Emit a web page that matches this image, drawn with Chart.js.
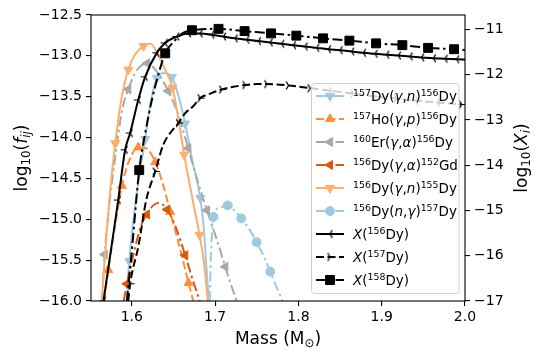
<!DOCTYPE html>
<html>
<head>
<meta charset="utf-8">
<script src="https://cdn.jsdelivr.net/npm/chart.js@4.4.1/dist/chart.umd.min.js"></script>
<style>
  html, body { margin: 0; padding: 0; background: #fff; }
  #wrap { width: 540px; height: 357px; }
</style>
</head>
<body>
<div id="wrap"><canvas id="chart" width="540" height="357"></canvas></div>
<script>
// ticks
const massTicks = [1.6, 1.7, 1.8, 1.9, 2.0];
const fTicks = [-16.0, -15.5, -15.0, -14.5, -14.0, -13.5, -13.0, -12.5];
const abTicks = [-17, -16, -15, -14, -13, -12, -11];

// reaction flows, log10(f_ij), left axis
const dyGnMass = [1.5939, 1.5969, 1.6065, 1.6161, 1.6221, 1.6301, 1.6389, 1.6482, 1.6557, 1.6641, 1.6726, 1.6822, 1.6864, 1.6894, 1.6924];
const dyGnLog = [-16.0, -15.51, -14.64, -14.02, -13.60, -13.27, -13.21, -13.26, -13.48, -13.83, -14.28, -14.74, -15.11, -15.56, -16.0];

const hoGpMass = [1.5668, 1.5717, 1.5801, 1.5881, 1.5981, 1.6077, 1.6173, 1.6281, 1.6365, 1.6461, 1.6569, 1.6681, 1.6737];
const hoGpLog = [-16.0, -15.62, -15.07, -14.59, -14.25, -14.12, -14.13, -14.30, -14.54, -14.91, -15.32, -15.78, -16.0];

const erGaMass = [1.5644, 1.5674, 1.5729, 1.5813, 1.5885, 1.5957, 1.6065, 1.6185, 1.6305, 1.6437, 1.6557, 1.6677, 1.6786, 1.6902, 1.7014, 1.7122, 1.7194, 1.7260];
const erGaLog = [-16.0, -15.43, -14.83, -14.15, -13.66, -13.41, -13.17, -13.09, -13.20, -13.43, -13.72, -14.13, -14.52, -14.89, -15.23, -15.58, -15.81, -16.0];

const dyGaMass = [1.5903, 1.5941, 1.6041, 1.6113, 1.6181, 1.6257, 1.6317, 1.6425, 1.6533, 1.6641, 1.6725, 1.6816];
const dyGaLog = [-16.0, -15.79, -15.34, -15.07, -14.94, -14.83, -14.80, -14.88, -15.11, -15.44, -15.72, -16.0];

const dyGn155Mass = [1.5638, 1.5692, 1.5741, 1.5801, 1.5873, 1.5957, 1.6041, 1.6141, 1.6221, 1.6317, 1.6401, 1.6489, 1.6557, 1.6629, 1.6726, 1.6813, 1.6870, 1.6912];
const dyGn155Log = [-16.0, -15.25, -14.64, -14.07, -13.54, -13.17, -12.98, -12.88, -12.85, -12.99, -13.17, -13.39, -13.76, -14.21, -14.74, -15.19, -15.56, -16.0];

const dyNgMass = [1.6936, 1.6948, 1.6981, 1.7050, 1.7152, 1.7230, 1.7314, 1.7410, 1.7498, 1.7578, 1.7662, 1.7734, 1.7807];
const dyNgLog = [-16.0, -15.50, -14.97, -14.86, -14.83, -14.89, -14.99, -15.12, -15.28, -15.44, -15.64, -15.82, -16.0];

// abundances, log10(X_i), right axis
const x156Mass = [1.566, 1.5837, 1.592, 1.598, 1.6077, 1.616, 1.630, 1.640, 1.654, 1.668, 1.682, 1.696, 1.710, 1.724, 1.738, 1.752, 1.766, 1.780, 1.794, 1.808, 1.822, 1.836, 1.850, 1.864, 1.878, 1.892, 1.906, 1.920, 1.934, 1.948, 1.962, 1.976, 1.990, 2.004];
const x156Log = [-17.0, -14.77, -13.66, -13.29, -12.56, -12.05, -11.52, -11.30, -11.16, -11.09, -11.09, -11.12, -11.16, -11.20, -11.23, -11.26, -11.29, -11.32, -11.35, -11.38, -11.41, -11.44, -11.46, -11.49, -11.52, -11.54, -11.56, -11.58, -11.60, -11.62, -11.64, -11.65, -11.66, -11.67];

const x157Mass = [1.5957, 1.598, 1.608, 1.6173, 1.6281, 1.6377, 1.6461, 1.656, 1.6641, 1.6737, 1.682, 1.6942, 1.708, 1.7218, 1.736, 1.750, 1.762, 1.788, 1.814, 1.840, 1.866, 1.892, 1.918, 1.944, 1.970, 1.996];
const x157Log = [-17.0, -16.62, -15.78, -14.77, -14.14, -13.55, -13.29, -13.07, -12.85, -12.70, -12.52, -12.42, -12.33, -12.27, -12.23, -12.21, -12.21, -12.24, -12.30, -12.36, -12.42, -12.48, -12.53, -12.58, -12.62, -12.66];

const x158Mass = [1.5941, 1.6001, 1.6089, 1.6161, 1.6241, 1.6317, 1.6401, 1.6521, 1.6617, 1.6722, 1.7041, 1.7354, 1.7671, 1.7975, 1.8296, 1.8612, 1.8932, 1.9248, 1.9557, 1.9869, 2.003];
const x158Log = [-17.0, -15.87, -14.11, -13.29, -12.56, -12.01, -11.53, -11.24, -11.08, -11.02, -10.99, -11.04, -11.09, -11.14, -11.20, -11.25, -11.31, -11.35, -11.41, -11.44, -11.46];

const FONT = '"DejaVu Sans", "Liberation Sans", sans-serif';
const DASH = [8, 3.5];
const DASHDOT = [10, 3.5, 2.5, 3.5];

function range(a, b) {
  const out = [];
  for (let i = a; i <= b; i++) out.push(i);
  return out;
}

// small tri markers like matplotlib '3' and '4'
function triMarker(dir) {
  const c = document.createElement('canvas');
  c.width = 11; c.height = 11;
  const g = c.getContext('2d');
  g.strokeStyle = '#000';
  g.lineWidth = 1.2;
  const cx = 5.5, cy = 5.5, r = 4.5;
  const arms = [[dir, 0], [-dir * 0.5, -0.866], [-dir * 0.5, 0.866]];
  g.beginPath();
  arms.forEach(a => { g.moveTo(cx, cy); g.lineTo(cx + a[0] * r, cy + a[1] * r); });
  g.stroke();
  return c;
}
const triLeft = triMarker(-1);
const triRight = triMarker(1);

const series = [
  { name: '{157}Dy([γ],[n]){156}Dy', mass: dyGnMass, vals: dyGnLog, marks: [1, 3, 5, 7, 9, 11],
    color: '#9ecae1', dash: [], marker: 'triangle', rot: 180, r: 5.2, axis: 'y' },
  { name: '{157}Ho([γ],[p]){156}Dy', mass: hoGpMass, vals: hoGpLog, marks: [1, 3, 5, 7, 9, 11],
    color: '#fd8d3c', dash: DASH, marker: 'triangle', rot: 0, r: 5.2, axis: 'y' },
  { name: '{160}Er([γ],[α]){156}Dy', mass: erGaMass, vals: erGaLog, marks: [1, 5, 7, 9, 11, 13, 15],
    color: '#a8a8a8', dash: DASHDOT, marker: 'triangle', rot: -90, r: 5.2, axis: 'y' },
  { name: '{156}Dy([γ],[α]){152}Gd', mass: dyGaMass, vals: dyGaLog, marks: [1, 4, 7, 9],
    color: '#d95a0e', dash: DASHDOT, marker: 'triangle', rot: -90, r: 5.2, axis: 'y' },
  { name: '{156}Dy([γ],[n]){155}Dy', mass: dyGn155Mass, vals: dyGn155Log, marks: [3, 5, 7, 11, 13, 15],
    color: '#fdae6b', dash: [], marker: 'triangle', rot: 180, r: 5.2, axis: 'y' },
  { name: '{156}Dy([n],[γ]){157}Dy', mass: dyNgMass, vals: dyNgLog, marks: [2, 4, 6, 8, 10],
    color: '#9ecae1', dash: DASHDOT, marker: 'circle', rot: 0, r: 4.5, axis: 'y' },
  { name: '[X]({156}Dy)', mass: x156Mass, vals: x156Log, marks: range(0, 33),
    color: '#000', dash: [], marker: triLeft, rot: 0, r: 3, axis: 'y2' },
  { name: '[X]({157}Dy)', mass: x157Mass, vals: x157Log, marks: [1, 4, 7, 10, 12, 14].concat(range(16, 25)),
    color: '#000', dash: DASH, marker: triRight, rot: 0, r: 3, axis: 'y2' },
  { name: '[X]({158}Dy)', mass: x158Mass, vals: x158Log, marks: [2, 6].concat(range(9, 19)),
    color: '#000', dash: DASHDOT, marker: 'rect', rot: 0, r: 6.3, axis: 'y2' }
];

// "{sup}" superscript, "[it]" italic, "<sub>" subscript
function parseRich(str) {
  const segs = [];
  const re = /\{([^}]*)\}|\[([^\]]*)\]|<([^>]*)>|([^{\[<]+)/g;
  let m;
  while ((m = re.exec(str))) {
    if (m[1] !== undefined) segs.push({ t: m[1], sup: true });
    else if (m[2] !== undefined) segs.push({ t: m[2], it: true });
    else if (m[3] !== undefined) segs.push({ t: m[3], sub: true });
    else segs.push({ t: m[4] });
  }
  return segs;
}

function segFont(s, fs) {
  const size = (s.sup || s.sub) ? fs * 0.7 : fs;
  return (s.it ? 'italic ' : '') + size.toFixed(1) + 'px ' + FONT;
}

function richWidth(ctx, segs, fs) {
  let w = 0;
  segs.forEach(s => { ctx.font = segFont(s, fs); w += ctx.measureText(s.t).width; });
  return w;
}

function drawRich(ctx, segs, x, y, fs) {
  ctx.textBaseline = 'alphabetic';
  ctx.textAlign = 'left';
  segs.forEach(s => {
    ctx.font = segFont(s, fs);
    let dy = 0;
    if (s.sup) dy = -0.36 * fs;
    if (s.sub) dy = 0.2 * fs;
    ctx.fillText(s.t, x, y + dy);
    x += ctx.measureText(s.t).width;
  });
}

function fmt(v, d) {
  return (v < 0 ? '\u2212' : '') + Math.abs(v).toFixed(d);
}

const decorPlugin = {
  id: 'decor',
  afterDatasetsDraw(chart) {
    const ctx = chart.ctx;
    const a = chart.chartArea;
    ctx.save();
    ctx.strokeStyle = '#000';
    ctx.lineWidth = 1.1;
    ctx.strokeRect(a.left, a.top, a.right - a.left, a.bottom - a.top);
    ctx.restore();
  },
  afterDraw(chart) {
    const ctx = chart.ctx;
    const a = chart.chartArea;
    ctx.save();
    ctx.fillStyle = '#000';

    // axis titles
    const xl = [{ t: 'Mass (M' }, { t: '\u2299', sub: true }, { t: ')' }];
    const fsL = 17;
    let w = richWidth(ctx, xl, fsL);
    drawRich(ctx, xl, (a.left + a.right) / 2 - w / 2, 344, fsL);

    const yl = [{ t: 'log' }, { t: '10', sub: true }, { t: '(' }, { t: 'f', it: true }, { t: 'ij', sub: true, it: true }, { t: ')' }];
    const yr = [{ t: 'log' }, { t: '10', sub: true }, { t: '(' }, { t: 'X', it: true }, { t: 'i', sub: true, it: true }, { t: ')' }];
    const cy = (a.top + a.bottom) / 2;
    [[yl, 27], [yr, 527]].forEach(([segs, cx]) => {
      ctx.save();
      ctx.translate(cx, cy);
      ctx.rotate(-Math.PI / 2);
      const ww = richWidth(ctx, segs, fsL);
      drawRich(ctx, segs, -ww / 2, 0, fsL);
      ctx.restore();
    });

    // legend
    const lx = 311.5, ly = 83.5, lw = 147.5, lh = 210;
    ctx.beginPath();
    ctx.roundRect(lx, ly, lw, lh, 3);
    ctx.fillStyle = 'rgba(255,255,255,0.8)';
    ctx.fill();
    ctx.strokeStyle = '#d0d0d0';
    ctx.lineWidth = 1;
    ctx.stroke();

    series.forEach((s, i) => {
      const y = 96 + i * 23;
      ctx.save();
      ctx.strokeStyle = s.color;
      ctx.lineWidth = 2;
      ctx.setLineDash(s.dash);
      ctx.beginPath();
      ctx.moveTo(316, y);
      ctx.lineTo(344, y);
      ctx.stroke();
      ctx.setLineDash([]);
      ctx.fillStyle = s.color;
      ctx.lineWidth = 1;
      Chart.helpers.drawPoint(ctx, { pointStyle: s.marker, rotation: s.rot, radius: s.r, borderWidth: 1 }, 330, y);
      ctx.restore();
      ctx.fillStyle = '#000';
      drawRich(ctx, parseRich(s.name), 353, y + 5, 13.5);
    });
    ctx.restore();
  }
};

const tickFont = { family: FONT, size: 14 };
const gridOpts = { drawOnChartArea: false, drawTicks: true, tickLength: 5, color: '#000', lineWidth: 1.1 };

new Chart(document.getElementById('chart'), {
  type: 'line',
  data: {
    datasets: series.map((s, i) => ({
      label: s.name,
      data: s.mass.map((m, j) => ({ x: m, y: s.vals[j] })),
      yAxisID: s.axis,
      borderColor: s.color,
      backgroundColor: s.color,
      borderWidth: 2,
      borderDash: s.dash,
      pointStyle: s.marker,
      rotation: s.rot,
      pointRadius: ctx => s.marks.includes(ctx.dataIndex) ? s.r : 0,
      pointHoverRadius: 0,
      pointBorderWidth: 1,
      pointBackgroundColor: s.color,
      pointBorderColor: s.color,
      cubicInterpolationMode: 'monotone',
      fill: false,
      order: series.length - i
    }))
  },
  options: {
    responsive: false,
    animation: false,
    devicePixelRatio: 1,
    layout: { padding: { top: 15, left: 0, right: 0, bottom: 0 } },
    plugins: { legend: { display: false }, tooltip: { enabled: false } },
    scales: {
      x: {
        type: 'linear', min: 1.551, max: 2.0,
        afterBuildTicks: sc => { sc.ticks = massTicks.map(v => ({ value: v })); },
        afterFit: sc => { sc.height = 56; },
        ticks: { callback: v => v.toFixed(1), font: tickFont, color: '#000', padding: 3, maxRotation: 0, autoSkip: false },
        grid: gridOpts,
        border: { display: false }
      },
      y: {
        type: 'linear', position: 'left', min: -16, max: -12.5,
        afterBuildTicks: sc => { sc.ticks = fTicks.map(v => ({ value: v })); },
        afterFit: sc => { sc.width = 91; },
        ticks: { callback: v => fmt(v, 1), font: tickFont, color: '#000', padding: 4, autoSkip: false },
        grid: gridOpts,
        border: { display: false }
      },
      y2: {
        type: 'linear', position: 'right', min: -17, max: -10.684,
        afterBuildTicks: sc => { sc.ticks = abTicks.map(v => ({ value: v })); },
        afterFit: sc => { sc.width = 75; },
        ticks: { callback: v => fmt(v, 0), font: tickFont, color: '#000', padding: 4, autoSkip: false },
        grid: gridOpts,
        border: { display: false }
      }
    }
  },
  plugins: [decorPlugin]
});
</script>
</body>
</html>
